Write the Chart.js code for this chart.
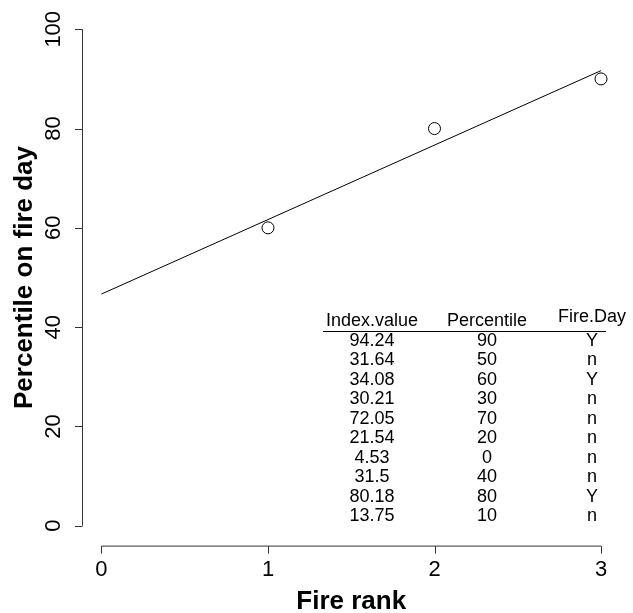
<!DOCTYPE html>
<html>
<head>
<meta charset="utf-8">
<script src="https://cdn.jsdelivr.net/npm/chart.js@4/dist/chart.umd.min.js"></script>
<style>
  html, body { margin: 0; padding: 0; background: #fff; }
  #fire-chart { display: block; }
</style>
</head>
<body>
<canvas id="fire-chart" width="633" height="613"></canvas>
<script>
// Observed points: fire rank vs percentile on fire day
const fireRank = [1, 2, 3];
const firePercentile = [60, 80, 90];

// Fitted line end points
const fitX = [0, 3];
const fitY = [46.67, 91.67];

// Axis ticks
const xTicks = [0, 1, 2, 3];
const yTicks = [0, 20, 40, 60, 80, 100];

// Table drawn inside the plot
const tableHeaders = ['Index.value', 'Percentile', 'Fire.Day'];
const indexValues = ['94.24', '31.64', '34.08', '30.21', '72.05', '21.54', '4.53', '31.5', '80.18', '13.75'];
const percentiles = ['90', '50', '60', '30', '70', '20', '0', '40', '80', '10'];
const fireDays = ['Y', 'n', 'Y', 'n', 'n', 'n', 'n', 'n', 'Y', 'n'];

const FONT = '"Liberation Sans", Arial, Helvetica, sans-serif';

// Draw R-style axes (lines only across the tick range) plus the table
const baseAxes = {
    id: 'baseAxes',
    afterDraw(chart) {
        const { ctx, chartArea, scales } = chart;
        const xs = scales.x, ys = scales.y;
        const tick = 7.5;
        ctx.save();
        ctx.strokeStyle = '#333';
        ctx.fillStyle = '#000';
        ctx.lineWidth = 1;

        // x axis
        const yAx = chartArea.bottom + 0.5;
        ctx.beginPath();
        ctx.moveTo(xs.getPixelForValue(xTicks[0]), yAx);
        ctx.lineTo(xs.getPixelForValue(xTicks[xTicks.length - 1]), yAx);
        xTicks.forEach(v => {
            const px = Math.round(xs.getPixelForValue(v)) + 0.5;
            ctx.moveTo(px, yAx);
            ctx.lineTo(px, yAx + tick);
        });
        ctx.stroke();
        ctx.font = '22px ' + FONT;
        ctx.textAlign = 'center';
        ctx.textBaseline = 'middle';
        xTicks.forEach(v => {
            ctx.fillText(String(v), xs.getPixelForValue(v), 570);
        });

        // y axis
        const xAx = Math.round(chartArea.left) + 0.5;
        ctx.beginPath();
        ctx.moveTo(xAx, ys.getPixelForValue(yTicks[0]));
        ctx.lineTo(xAx, ys.getPixelForValue(yTicks[yTicks.length - 1]));
        yTicks.forEach(v => {
            const py = Math.round(ys.getPixelForValue(v)) + 0.5;
            ctx.moveTo(xAx, py);
            ctx.lineTo(xAx - tick, py);
        });
        ctx.stroke();
        yTicks.forEach(v => {
            ctx.save();
            ctx.translate(54, ys.getPixelForValue(v));
            ctx.rotate(-Math.PI / 2);
            ctx.fillText(String(v), 0, 0);
            ctx.restore();
        });

        // axis titles
        ctx.font = 'bold 26px ' + FONT;
        ctx.textBaseline = 'alphabetic';
        ctx.fillText('Fire rank', (chartArea.left + chartArea.right) / 2, 609);
        ctx.save();
        ctx.translate(0, (chartArea.top + chartArea.bottom) / 2);
        ctx.rotate(-Math.PI / 2);
        ctx.fillText('Percentile on fire day', 0, 32);
        ctx.restore();

        // table
        const colX = [372, 487, 592];
        ctx.font = '18px ' + FONT;
        ctx.textBaseline = 'middle';
        ctx.fillText(tableHeaders[0], colX[0], 321);
        ctx.fillText(tableHeaders[1], colX[1], 321);
        ctx.fillText(tableHeaders[2], colX[2], 317);
        ctx.strokeStyle = '#000';
        ctx.beginPath();
        ctx.moveTo(323, 331.5);
        ctx.lineTo(606, 331.5);
        ctx.stroke();
        const rowH = 19.5;
        indexValues.forEach((val, i) => {
            const y = 341 + i * rowH;
            ctx.fillText(val, colX[0], y);
            ctx.fillText(percentiles[i], colX[1], y);
            ctx.fillText(fireDays[i], colX[2], y);
        });
        ctx.restore();
    }
};

const ctx = document.getElementById('fire-chart').getContext('2d');
new Chart(ctx, {
    type: 'scatter',
    data: {
        datasets: [
            {
                label: 'Percentile',
                data: fireRank.map((x, i) => ({ x: x, y: firePercentile[i] })),
                pointStyle: 'circle',
                pointRadius: 6,
                pointBorderWidth: 1,
                pointBorderColor: '#000',
                pointBackgroundColor: 'rgba(0,0,0,0)',
                showLine: false
            },
            {
                label: 'Fit',
                data: fitX.map((x, i) => ({ x: x, y: fitY[i] })),
                showLine: true,
                borderColor: '#000',
                borderWidth: 1,
                pointRadius: 0,
                fill: false
            }
        ]
    },
    options: {
        responsive: false,
        animation: false,
        events: [],
        layout: {
            padding: { left: 81.5, right: 12, top: 9.4, bottom: 67.4 }
        },
        plugins: {
            legend: { display: false },
            tooltip: { enabled: false }
        },
        scales: {
            x: { type: 'linear', min: -0.12, max: 3.12, display: false },
            y: { type: 'linear', min: -4, max: 104, display: false }
        }
    },
    plugins: [baseAxes]
});
</script>
</body>
</html>
